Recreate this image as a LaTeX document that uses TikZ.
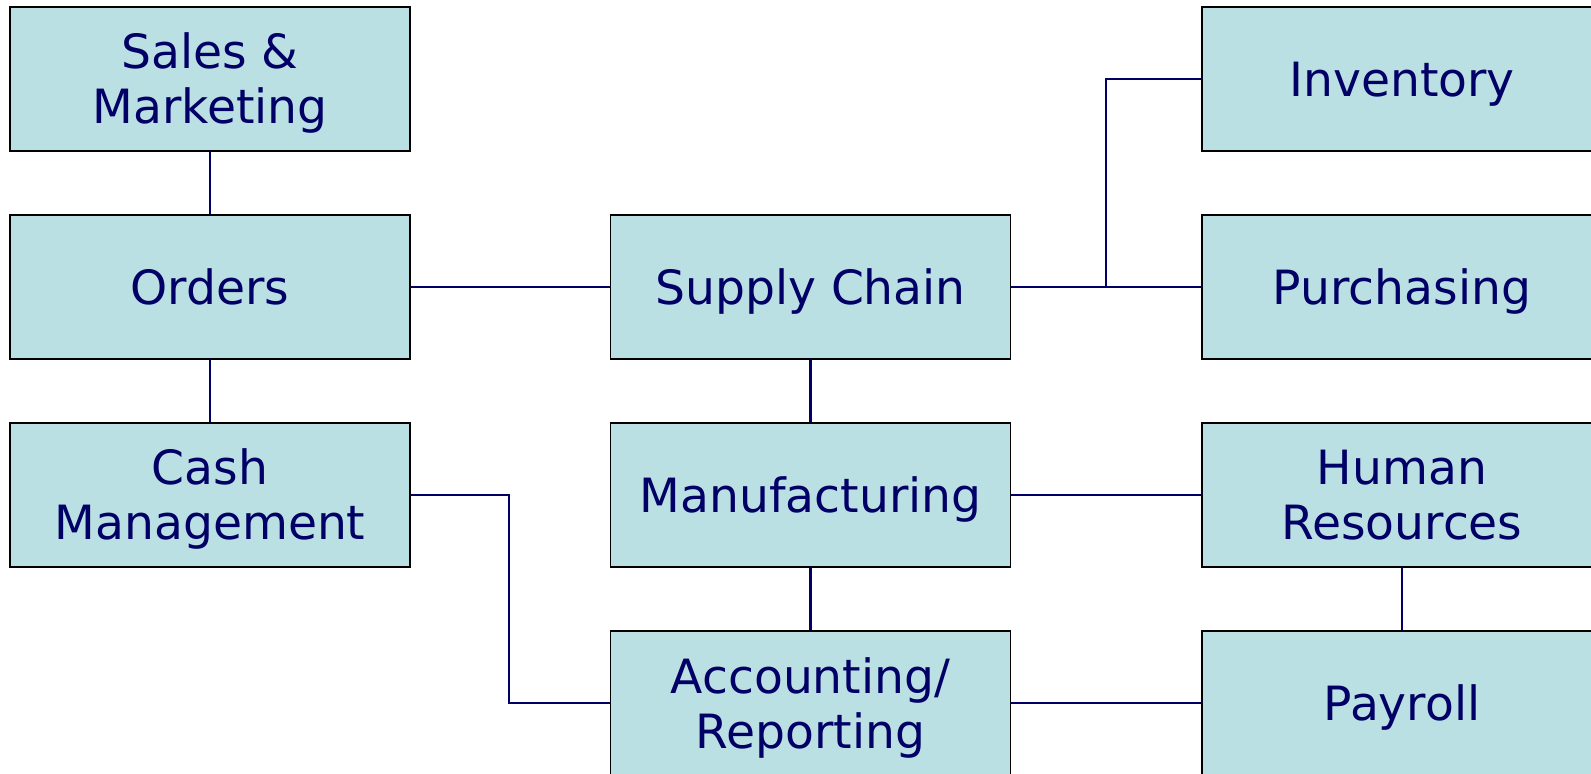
\documentclass[tikz,border=0pt]{standalone}
\usepackage{fontspec}
\setmainfont{DejaVu Sans}
\definecolor{boxfill}{HTML}{BBE0E3}
\definecolor{navy}{HTML}{000066}
\begin{document}
\begin{tikzpicture}[x=0.5pt,y=-0.5pt]
\tikzstyle{module}=[draw=black, line width=0.75pt, fill=boxfill, text=navy,
  minimum width=200pt, minimum height=72pt, inner sep=0pt, align=center,
  font=\fontsize{23.6}{27.5}\selectfont, text height=18pt, text depth=0pt]
\tikzstyle{twoline}=[module, text height=45pt]
\tikzstyle{link}=[draw=navy, line width=1.3pt]
\useasboundingbox (0,0) rectangle (1591,774);
% left column
\node [twoline] (sales) at (210,79) {Sales \&\\Marketing};
\node [module] (orders) at (210,287) {Orders};
\node [twoline] (cash) at (210,495) {Cash\\Management};
% middle column
\node [module] (supply) at (810.5,287) {Supply Chain};
\node [module] (manuf) at (810.5,495) {Manufacturing};
\node [twoline] (acct) at (810.5,703) {Accounting/\\Reporting};
% right column
\node [module] (inv) at (1402,79) {Inventory};
\node [module] (purch) at (1402,287) {Purchasing};
\node [twoline] (hr) at (1402,495) {Human\\Resources};
\node [module] (pay) at (1402,703) {Payroll};
% connectors
\draw [link] (sales) -- (orders);
\draw [link] (orders) -- (cash);
\draw [link] (orders) -- (supply);
\draw [link] (supply) -- (purch);
\coordinate (split) at (1106,287);
\draw [link] (inv.west) -| (split);
\draw [link] (supply) -- (manuf);
\draw [link] (manuf) -- (acct);
\draw [link] (manuf) -- (hr);
\draw [link] (hr) -- (pay);
\draw [link] (acct) -- (pay);
\coordinate (bend) at (509,495);
\draw [link] (cash.east) -- (bend) |- (acct.west);
\end{tikzpicture}
\end{document}
